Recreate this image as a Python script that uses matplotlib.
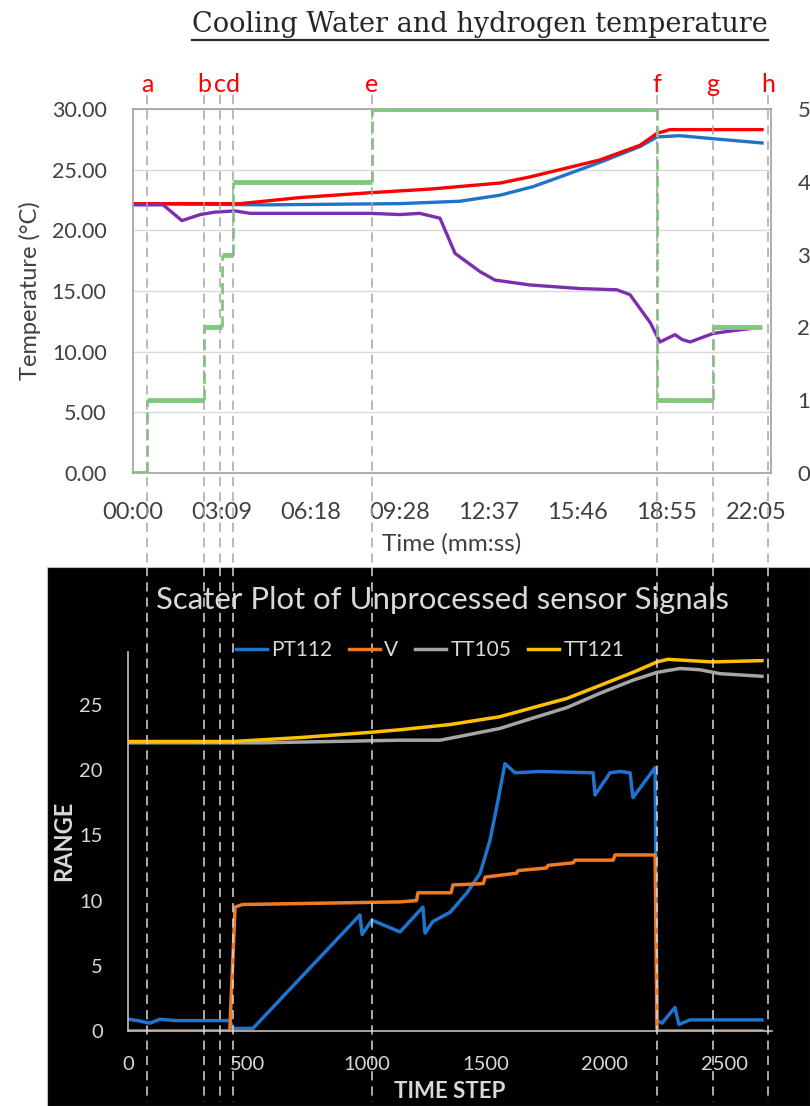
import matplotlib
matplotlib.use("Agg")
import matplotlib.pyplot as plt
from matplotlib.lines import Line2D
from matplotlib.patches import Rectangle
from matplotlib import transforms

plt.rcParams['font.family'] = ['Lato', 'DejaVu Sans']

# top chart: time in seconds
time_ticks = [0, 189, 378, 568, 757, 946, 1135, 1325]
time_labels = ["00:00", "03:09", "06:18", "09:28", "12:37", "15:46", "18:55", "22:05"]
temp_ticks = [0, 5, 10, 15, 20, 25, 30]
level_ticks = [0, 1, 2, 3, 4, 5]

red_t = [0, 228, 355, 504, 632, 781, 844, 908, 993, 1078, 1115, 1142, 1206, 1338]
red_v = [22.2, 22.2, 22.7, 23.1, 23.4, 23.9, 24.4, 25.0, 25.8, 27.0, 28.0, 28.3, 28.3, 28.3]

blue_t = [0, 281, 568, 696, 781, 851, 908, 993, 1078, 1115, 1163, 1249, 1338]
blue_v = [22.2, 22.1, 22.2, 22.4, 22.9, 23.6, 24.4, 25.6, 26.9, 27.7, 27.8, 27.5, 27.2]

purple_t = [0, 64, 104, 143, 174, 217, 249, 504, 568, 610, 653, 685, 738, 770, 844,
            951, 1029, 1057, 1100, 1121, 1153, 1168, 1185, 1234, 1270, 1312]
purple_v = [22.1, 22.1, 20.8, 21.3, 21.5, 21.6, 21.4, 21.4, 21.3, 21.4, 21.0, 18.1, 16.6, 15.9, 15.5,
            15.2, 15.1, 14.7, 12.4, 10.8, 11.4, 11.0, 10.8, 11.5, 11.7, 11.9]

green_edges = [0, 30, 151, 189, 213, 508, 1115, 1234, 1338]
green_levels = [0, 1, 2, 3, 4, 5, 1, 2]

# bottom chart: time steps
step_ticks = [0, 500, 1000, 1500, 2000, 2500]
range_ticks = [0, 5, 10, 15, 20, 25]

pt112_x = [0, 40, 92, 134, 200, 300, 427, 440, 524, 973, 982, 1023, 1141, 1237, 1246, 1279,
           1351, 1422, 1477, 1518, 1550, 1581, 1623, 1728, 1951, 1959, 2022, 2064, 2106,
           2118, 2211, 2219, 2240, 2294, 2311, 2357, 2659]
pt112_y = [0.9, 0.8, 0.6, 0.9, 0.8, 0.8, 0.8, 0.2, 0.2, 8.9, 7.4, 8.5, 7.6, 9.5, 7.5, 8.4,
           9.1, 10.6, 12.1, 14.6, 17.5, 20.5, 19.8, 19.9, 19.8, 18.1, 19.8, 19.9, 19.8,
           17.9, 20.2, 0.8, 0.6, 1.8, 0.5, 0.85, 0.85]

v_x = [0, 427, 449, 480, 1141, 1210, 1216, 1355, 1363, 1490, 1498, 1630, 1636, 1755, 1762,
       1868, 1875, 2035, 2043, 2211, 2219, 2659]
v_y = [0, 0, 9.5, 9.7, 9.9, 10.0, 10.6, 10.6, 11.2, 11.3, 11.8, 12.1, 12.3, 12.5, 12.7,
       12.9, 13.1, 13.1, 13.5, 13.5, 0, 0]

tt105_x = [0, 566, 1141, 1309, 1422, 1560, 1699, 1841, 1980, 2118, 2219, 2315, 2399, 2483, 2659]
tt105_y = [22.1, 22.1, 22.3, 22.3, 22.7, 23.2, 24.0, 24.8, 25.9, 26.9, 27.5, 27.8, 27.7, 27.4, 27.2]

tt121_x = [0, 440, 721, 1015, 1141, 1351, 1560, 1699, 1841, 1980, 2118, 2219, 2265, 2450, 2659]
tt121_y = [22.2, 22.2, 22.5, 22.9, 23.1, 23.5, 24.1, 24.8, 25.5, 26.5, 27.5, 28.3, 28.5, 28.3, 28.4]

event_steps = [80, 319, 386, 440, 1023, 2219, 2454, 2685]
event_names = ["a", "b", "c", "d", "e", "f", "g", "h"]

W, H = 810, 1106
fig = plt.figure(figsize=(W / 100, H / 100), dpi=100)

# black background of the lower chart
fig.patches.append(Rectangle((47 / W, 0), 1 - 47 / W, 1 - 567 / H, transform=fig.transFigure,
                             facecolor="black", edgecolor="#BFBFBF", lw=0.8, zorder=-5))

# ---------- top chart ----------
ax1 = fig.add_axes([133 / W, 1 - 473 / H, 638 / W, 364 / H])
ax1.plot(blue_t, blue_v, color="#1F74C8", lw=2.4)
ax1.plot(red_t, red_v, color="#FF0000", lw=2.4)
ax1.plot(purple_t, purple_v, color="#7B2FB0", lw=2.4)
ax1.set_xlim(0, 1357)
ax1.set_ylim(0, 30)
ax1.set_yticks(temp_ticks)
ax1.set_yticklabels(["%.2f" % v for v in temp_ticks])
ax1.set_xticks(time_ticks)
ax1.set_xticklabels(time_labels)
ax1.grid(axis="y", color="#D9D9D9", lw=1)
ax1.set_axisbelow(True)
for s in ax1.spines.values():
    s.set_color("#A0A0A0")
    s.set_linewidth(1.2)
ax1.tick_params(axis="both", length=0, colors="#404040")
ax1.tick_params(axis="y", pad=19, labelsize=15.5)
ax1.tick_params(axis="x", pad=21, labelsize=17)
ax1.set_ylabel("Temperature (°C)", fontsize=17, color="#404040", labelpad=8)
ax1.set_xlabel("Time (mm:ss)", fontsize=17.5, color="#404040", labelpad=7)

ax1b = ax1.twinx()
ax1b.set_ylim(0, 5)
ax1b.set_yticks(level_ticks)
ax1b.tick_params(axis="y", length=0, labelsize=16, colors="#404040", pad=19)
for s in ax1b.spines.values():
    s.set_visible(False)
ax1b.hlines(green_levels, green_edges[:-1], green_edges[1:], color="#80C97C", lw=3.5)
ax1b.vlines(green_edges[1:-1], green_levels[:-1], green_levels[1:], color="#80C97C", lw=2,
            linestyles=(0, (4, 2)))

title = fig.text(768 / W, 1 - 25 / H, "Cooling Water and hydrogen temperature", ha="right",
                 va="center", fontsize=19.5, family="DejaVu Serif", color="#262626")

# ---------- bottom chart ----------
ax2 = fig.add_axes([128 / W, 1 - 1031 / H, 643.7 / W, 379.5 / H])
ax2.set_facecolor("black")
ax2.plot(pt112_x, pt112_y, color="#1F74D0", lw=2.5, label="PT112")
ax2.plot(v_x, v_y, color="#F07A22", lw=2.5, label="V")
ax2.plot(tt105_x, tt105_y, color="#A5A5A5", lw=2.5, label="TT105")
ax2.plot(tt121_x, tt121_y, color="#FFC000", lw=2.5, label="TT121")
ax2.set_xlim(0, 2700)
ax2.set_ylim(0, 29.1)
ax2.set_xticks(step_ticks)
ax2.set_yticks(range_ticks)
for k in ["top", "right"]:
    ax2.spines[k].set_visible(False)
for k in ["left", "bottom"]:
    ax2.spines[k].set_color("#BFBFBF")
    ax2.spines[k].set_linewidth(1.2)
ax2.tick_params(axis="both", length=0, labelsize=14.5, colors="#D9D9D9")
ax2.tick_params(axis="y", pad=18)
ax2.tick_params(axis="x", pad=18)
ax2.set_xlabel("TIME STEP", fontsize=16, fontweight="bold", color="#D9D9D9", labelpad=6)
ax2.set_ylabel("RANGE", fontsize=17, fontweight="bold", color="#D9D9D9", labelpad=3)
fig.text(442 / W, 1 - 600 / H, "Scater Plot of Unprocessed sensor Signals", ha="center",
         va="center", fontsize=22.4, color="#D9D9D9")
fig.legend(loc="center", bbox_to_anchor=(430 / W, 1 - 650 / H), ncol=4, frameon=False,
           fontsize=15, labelcolor="#D9D9D9", handlelength=1.5, handletextpad=0.2,
           columnspacing=0.8)

# ---------- event markers spanning both charts ----------
trans = transforms.blended_transform_factory(ax2.transData, fig.transFigure)
for xs, name in zip(event_steps, event_names):
    fig.lines.append(Line2D([xs, xs], [1 - 95 / H, 1 - 567 / H], transform=trans,
                            color="#A6A6A6", lw=1.1, linestyle=(0, (6, 4))))
    fig.lines.append(Line2D([xs, xs], [1 - 567 / H, 0.004], transform=trans,
                            color="#D9D9D9", lw=1.1, linestyle=(0, (6, 4))))
    fig.text(xs, 1 - 85 / H, name, transform=trans, ha="center", va="center",
             fontsize=18, color="#FF0000")

# underline of the title
fig.canvas.draw()
bb = title.get_window_extent().transformed(fig.transFigure.inverted())
fig.lines.append(Line2D([bb.x0, bb.x1], [1 - 40 / H, 1 - 40 / H],
                        transform=fig.transFigure, color="#262626", lw=1.6))

fig.savefig("out.png", dpi=100)
